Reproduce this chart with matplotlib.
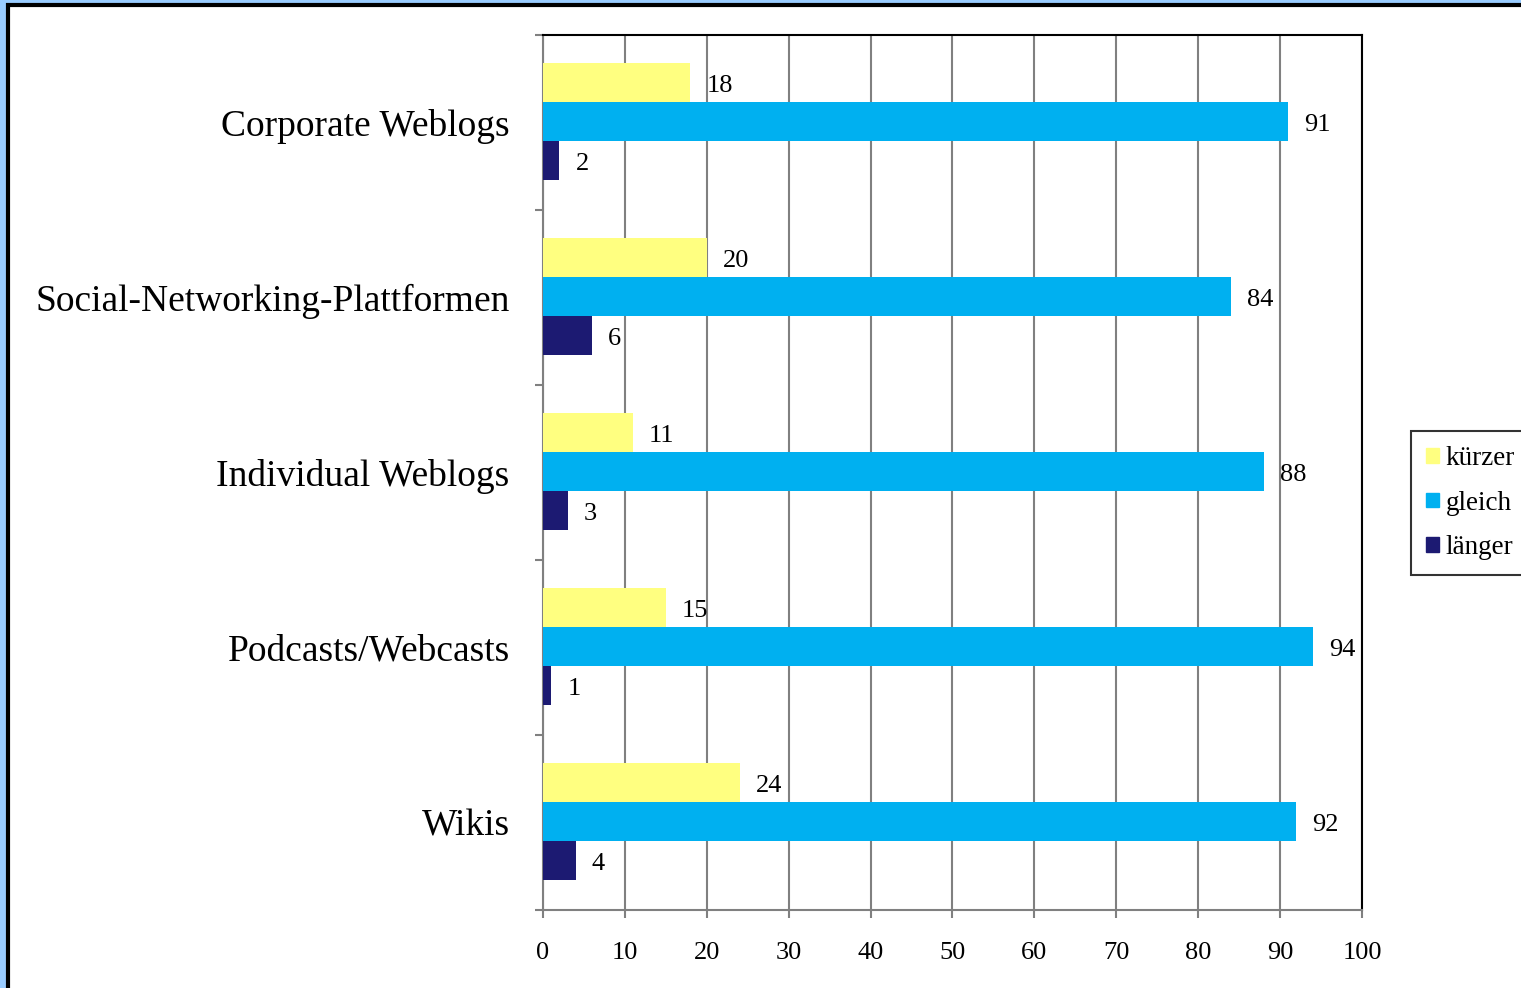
import numpy as np
import matplotlib.pyplot as plt
from matplotlib.patches import Rectangle

categories = ["Corporate Weblogs", "Social-Networking-Plattformen",
              "Individual Weblogs", "Podcasts/Webcasts", "Wikis"]
kuerzer = [18, 20, 11, 15, 24]
gleich = [91, 84, 88, 94, 92]
laenger = [2, 6, 3, 1, 4]
series_names = ["kürzer", "gleich", "länger"]
colors = ["#FFFF80", "#00B0F0", "#1C1A72"]
xticks = list(range(0, 101, 10))

plt.rcParams["font.family"] = ["Liberation Serif", "DejaVu Serif"]

fig = plt.figure(figsize=(15.21, 9.88), dpi=100)
fig.patch.set_facecolor("#99CCFF")
# white panel with black frame, behind everything
fig.patches.append(Rectangle((8 / 1521, -0.05), 1.1, 1 - 5 / 988 + 0.05,
                             transform=fig.transFigure, facecolor="white",
                             edgecolor="black", linewidth=3, zorder=-5))

ax = fig.add_axes([543 / 1521, 78 / 988, 819 / 1521, 875 / 988])
ax.set_facecolor("white")

y = np.arange(len(categories))
h = 39 / 175
for vals, off, col in zip([kuerzer, gleich, laenger], [-h, 0, h], colors):
    bars = ax.barh(y + off - 0.008, vals, height=h, color=col, zorder=3)
    for b, v in zip(bars, vals):
        ax.annotate(str(v), (v, b.get_y() + b.get_height() / 2),
                    xytext=(16, -4), textcoords="offset pixels",
                    ha="left", va="center", fontsize=19)

ax.set_xlim(0, 100)
ax.set_ylim(len(categories) - 0.5, -0.5)
ax.set_xticks(xticks)
ax.set_xticklabels([str(t) for t in xticks], fontsize=19)
ax.set_yticks(y)
ax.set_yticklabels(categories, fontsize=27)
ax.set_yticks(np.arange(-0.5, len(categories)), minor=True)
ax.tick_params(axis="y", which="major", length=0, pad=24)
ax.tick_params(axis="y", which="minor", length=6, color="#808080", width=1.5)
ax.tick_params(axis="x", length=6, color="#808080", width=1.5, pad=17)
ax.grid(axis="x", color="#808080", linewidth=1.5, zorder=0)
ax.set_axisbelow(True)

for side in ["top", "right"]:
    ax.spines[side].set_color("black")
    ax.spines[side].set_linewidth(1.5)
for side in ["left", "bottom"]:
    ax.spines[side].set_color("#808080")
    ax.spines[side].set_linewidth(1.5)

handles = [Rectangle((0, 0), 1, 1, color=c) for c in colors]
leg = fig.legend(handles, series_names, loc="upper left",
                 bbox_to_anchor=(1411 / 1521, 1 - 431 / 988),
                 fontsize=19.5, frameon=True, fancybox=False,
                 handlelength=0.47, handleheight=0.47, handletextpad=0.25,
                 labelspacing=0.73, borderpad=0.55, borderaxespad=0)
leg.get_frame().set_edgecolor("black")
leg.get_frame().set_linewidth(1.5)

fig.savefig("out.png", dpi=100, facecolor=fig.get_facecolor())
